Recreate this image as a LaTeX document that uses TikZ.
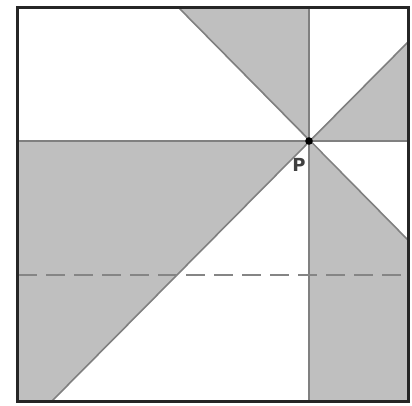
\documentclass[tikz,border=0pt]{standalone}
\usepackage{fontspec}
\setsansfont{DejaVu Sans}
\begin{document}
\begin{tikzpicture}[x=1pt,y=-1pt,
  shade/.style={fill=gray!50!white},
  gline/.style={draw=black!50, line width=1.6pt},
  border/.style={draw=black!85, line width=3pt},
  dline/.style={draw=black!48, line width=2.2pt, dash pattern=on 19pt off 9pt}]
\useasboundingbox (0,0) rectangle (412,405);
\coordinate (TL) at (17,7);
\coordinate (TR) at (408,7);
\coordinate (BR) at (408,401);
\coordinate (BL) at (17,401);
\coordinate (P) at (309,141);
\coordinate (A) at (178,7);
\coordinate (B) at (309,7);
\coordinate (C) at (408,42);
\coordinate (D) at (408,141);
\coordinate (E) at (408,240);
\coordinate (F) at (309,401);
\coordinate (G) at (52,401);
\coordinate (H) at (17,141);
\coordinate (L1) at (18,275);
\coordinate (L2) at (408,275);
% shaded regions
\fill[shade] (A) -- (B) -- (P) -- cycle;
\fill[shade] (P) -- (C) -- (D) -- cycle;
\fill[shade] (P) -- (E) -- (BR) -- (F) -- cycle;
\fill[shade] (H) -- (P) -- (G) -- (BL) -- cycle;
% lines
\draw[gline] (H) -- (D);
\draw[gline] (B) -- (F);
\draw[gline] (A) -- (E);
\draw[gline] (G) -- (C);
\draw[dline] (L1) -- (L2);
\draw[border] (TL) rectangle (BR);
\fill (P) circle (3.8);
\node[font=\sffamily\bfseries\fontsize{18}{18}\selectfont, text=black!75, inner sep=0pt] (Plabel) at (299,165) {P};
\end{tikzpicture}
\end{document}
